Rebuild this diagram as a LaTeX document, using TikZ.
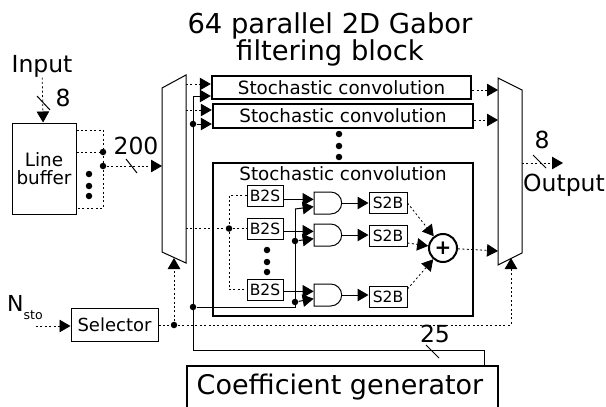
\documentclass[tikz,border=0pt]{standalone}
\usepackage{fontspec}
\setmainfont{DejaVu Sans}
\usetikzlibrary{arrows.meta, shapes.gates.logic.US}
\tikzset{
  tip/.style={-{Triangle[length=11pt,width=12.5pt]}},
  dot/.style={circle,fill=black,inner sep=0pt,minimum size=6.5pt},
  dots/.style={line width=0.8pt,dash pattern=on 2pt off 2.4pt},
  blockthin/.style={draw,line width=1pt,inner sep=0pt},
  blockthick/.style={draw,line width=2.4pt,inner sep=0pt},
  btos/.style={blockthin,minimum width=36pt,minimum height=21pt,font=\fontsize{15.5}{16}\selectfont},
  stob/.style={blockthin,minimum width=38pt,minimum height=21pt,font=\fontsize{15.5}{16}\selectfont},
  andgate/.style={and gate US,draw,line width=1pt,inner sep=0pt,minimum width=25pt,minimum height=22pt,logic gate inputs=nn},
  lab/.style={inner sep=0pt,font=\fontsize{23.5}{26}\selectfont},
  conv/.style={inner sep=0pt,font=\fontsize{18.3}{20}\selectfont}
}
\begin{document}
\begin{tikzpicture}[x=1pt,y=-1pt,line width=1pt]
\useasboundingbox (0,0) rectangle (606,407);
%title
\node[inner sep=0pt,align=center,font=\fontsize{27.4}{27}\selectfont] (title) at (330,39) {64 parallel 2D Gabor\\filtering block};
%line buffer
\node[lab] (input) at (42,66) {Input};
\node[lab] (eightin) at (63,98) {8};
\node[blockthin,minimum width=64pt,minimum height=91pt,align=center,font=\fontsize{18.4}{18.5}\selectfont] (buffer) at (44,168.5) {Line\\buffer};
\draw[dots,tip] (input) -- (buffer);
\draw (37,96) -- (50,110);
\coordinate (b1) at (103,130);
\node[dot] (b2) at (103,152) {};
\node[dot] (b3) at (103,166) {};
\coordinate (b4) at (103,208);
\draw[dots] (buffer.east |- b1) -- (b1) -- (b4) -- (buffer.east |- b4);
\draw[dots] (buffer.east |- b2) -- (b2);
\foreach \y in {174,186,196}{
\node[dot] at (89,\y) {}; }
\node[lab] (twohundred) at (136,146) {200};
%left and right mux
\coordinate (ml1) at (162,88);
\coordinate (ml2) at (186,75);
\coordinate (ml3) at (186,263);
\coordinate (ml4) at (162,252);
\draw (ml1) -- (ml2) -- (ml3) -- (ml4) -- cycle;
\coordinate (mr1) at (498,78);
\coordinate (mr2) at (522,90);
\coordinate (mr3) at (522,253);
\coordinate (mr4) at (498,265);
\draw (mr1) -- (mr2) -- (mr3) -- (mr4) -- cycle;
\draw[dots,tip] (b3) -- (162,166);
\draw (126,159) -- (137,173);
%stochastic convolution blocks
\node[blockthick,minimum width=259pt,minimum height=23pt] (conv1) at (341.5,87.5) {};
\node[conv] at (conv1) {Stochastic convolution};
\node[blockthick,minimum width=260pt,minimum height=24pt] (conv2) at (343,116) {};
\node[conv] at (conv2) {Stochastic convolution};
\node[blockthick,minimum width=260pt,minimum height=153pt] (conv3) at (343,239.5) {};
\node[conv] (conv3title) at (343,174) {Stochastic convolution};
\foreach \y in {134,146,157}{
\node[dot] at (339,\y) {}; }
%coefficient and selector
\node[blockthick,minimum width=311pt,minimum height=42pt,font=\fontsize{27}{30}\selectfont] (coef) at (342.5,387) {\hspace*{-5pt}Coefficient generator};
\node[blockthin,minimum width=87pt,minimum height=33pt,font=\fontsize{18}{18}\selectfont] (selector) at (114.5,325) {Selector};
\node[inner sep=0pt] (nsto) at (25,308) {\fontsize{22}{24}\selectfont N\raisebox{-8pt}{\fontsize{12.5}{12}\selectfont sto}};
\coordinate (nstoin) at (36,326);
\draw[dots,tip] (nstoin) -- (selector.west |- nstoin);
%B2S
\node[btos] (b2s1) at (265,195.5) {B2S};
\node[btos] (b2s2) at (265,228.5) {B2S};
\node[btos] (b2s3) at (265,289.5) {B2S};
\foreach \y in {250,262,272}{
\node[dot] at (267,\y) {}; }
\node[dot] (d1) at (229,228.5) {};
\draw[dots] (b2s1) -| (d1) |- (b2s3);
\draw[dots] (186,228.5) -- (d1) -- (b2s2);
%and gates
\node[andgate] (and1) at (327,203) {};
\node[andgate] (and2) at (327,235) {};
\node[andgate] (and3) at (327,295) {};
\draw[tip] (b2s1.east |- and1.input 1) -- (and1.input 1);
\draw[tip] (b2s2.east |- and2.input 1) -- (and2.input 1);
\draw[tip] (b2s3.east |- and3.input 1) -- (and3.input 1);
%S2B
\node[stob] (s2b1) at (388,203) {S2B};
\node[stob] (s2b2) at (388,236) {S2B};
\node[stob] (s2b3) at (388,297) {S2B};
\draw[tip] (and1.output) -- (s2b1.west |- and1.output);
\draw[tip] (and2.output) -- (s2b2.west |- and2.output);
\draw[tip] (and3.output) -- (s2b3.west |- and3.output);
\node[draw,circle,line width=2pt,minimum size=28pt,inner sep=0pt,font=\bfseries\fontsize{20}{20}\selectfont] (plus) at (443,248) {+};
\draw[dots,tip] (s2b1.east) -- (plus);
\draw[dots,tip] (s2b2.east) ++(0,7) -- (plus);
\draw[dots,tip] (s2b3.north east) ++(0,3) -- (plus);
\draw[dots,tip] (plus) -- (498,251);
%filter enable bus
\node[dot] (g1) at (193,124) {};
\node[dot] (g2) at (193,307) {};
\node[dot] (g3) at (295,241) {};
\node[dot] (g4) at (295,302) {};
\draw (coef.north -| 484,0) |- (193,350) -- (193,96);
\draw (g2) -| (295,209);
\draw[tip] (193,96) -- (conv1.west |- 0,96);
\draw[tip] (g1) -- (conv2.west |- g1);
\draw[tip] (295,209) -- (and1.input 2);
\draw[tip] (g3) -- (and2.input 2);
\draw[tip] (g4) -- (and3.input 2);
\draw[dots,tip] (186,84) -- (conv1.west |- 0,84);
\draw[dots,tip] (186,110) -- (conv2.west |- 0,110);
\draw (426,345) -- (439,358);
\node[lab] (twentyfive) at (435,334) {25};
%outputs
\draw[dots,tip] (conv1.east |- 0,90) -- (498,90);
\draw[dots,tip] (conv2.east |- 0,120) -- (498,120);
\coordinate (outend) at (563,163);
\draw[dots,tip] (522,163) -- (outend);
\draw (533,155) -- (546,168);
\node[lab] (eightout) at (542,140) {8};
\node[lab] (output) at (564,185) {Output};
%selector lines
\node[dot] (s1) at (174,325) {};
\draw[dots] (selector) -- (s1);
\draw[dots,tip] (s1) -- (174,258);
\draw[dots,tip] (s1) -| (511,258);
\end{tikzpicture}
\end{document}
